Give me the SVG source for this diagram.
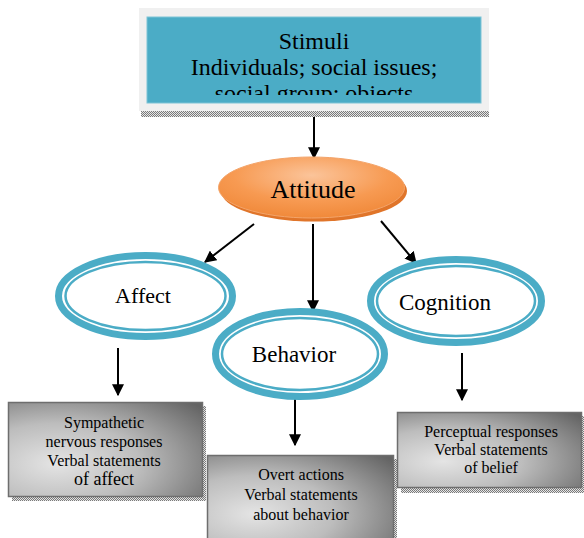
<svg xmlns="http://www.w3.org/2000/svg" width="584" height="538" viewBox="0 0 584 538" font-family="'Liberation Serif', 'DejaVu Serif', serif">
<defs>
<style>
text{font-family:'Liberation Serif','DejaVu Serif',serif;fill:#000;text-anchor:middle}
.ring{fill:#fff;stroke:#4bacc6}
.arr{stroke:#000;stroke-width:2;fill:none;marker-end:url(#ah)}
.box{fill:url(#gbox);stroke:#6e6e6e;stroke-width:1.5}
.shd{fill:url(#dots)}
</style>
<marker id="ah" viewBox="0 0 10 10" refX="9" refY="5" markerWidth="6" markerHeight="6" orient="auto" markerUnits="strokeWidth">
<path d="M0,0 L10,5 L0,10 z" fill="#000"/>
</marker>
<pattern id="dots" width="2" height="2" patternUnits="userSpaceOnUse">
<rect width="2" height="2" fill="#e6e6e6"/>
<rect width="1" height="1" fill="#7a7a7a"/>
<rect x="1" y="1" width="1" height="1" fill="#7a7a7a"/>
</pattern>
<radialGradient id="gbox" cx="0.25" cy="0.65" r="0.95">
<stop offset="0" stop-color="#e4e4e4"/>
<stop offset="0.45" stop-color="#bdbdbd"/>
<stop offset="1" stop-color="#646464"/>
</radialGradient>
<radialGradient id="gorange" cx="0.5" cy="0.3" r="0.7">
<stop offset="0" stop-color="#fbc49a"/>
<stop offset="0.6" stop-color="#f79a52"/>
<stop offset="1" stop-color="#f0893a"/>
</radialGradient>
<clipPath id="clipTop"><rect x="147" y="17" width="334" height="78"/></clipPath>
</defs>

<g id="stimuli">
<rect class="shd" x="141" y="111" width="348" height="6"/>
<rect x="139" y="8" width="350" height="103" fill="#f0f0f0"/>
<rect x="147" y="17" width="334" height="86" fill="#4bacc6" stroke="#7cc3d6" stroke-width="1"/>
<g clip-path="url(#clipTop)" font-size="24">
<text x="314" y="49">Stimuli</text>
<text x="314" y="75">Individuals; social issues;</text>
<text x="314" y="101">social group; objects</text>
</g>
</g>

<g id="connectors">
<line class="arr" x1="314" y1="117" x2="314" y2="158"/>
<line class="arr" x1="254" y1="224" x2="205" y2="262"/>
<line class="arr" x1="313" y1="224" x2="313" y2="311"/>
<line class="arr" x1="381" y1="221" x2="416" y2="263"/>
<line class="arr" x1="118" y1="348" x2="118" y2="395"/>
<line class="arr" x1="295" y1="399" x2="295" y2="445"/>
<line class="arr" x1="462" y1="353" x2="462" y2="400"/>
</g>

<g id="attitude">
<ellipse cx="314" cy="191" rx="93" ry="30.5" fill="#e0752a"/>
<ellipse cx="311.5" cy="187.5" rx="93" ry="30.5" fill="url(#gorange)" stroke="#f3a46a" stroke-width="1"/>
<text x="313" y="198" font-size="26">Attitude</text>
</g>

<g id="affect">
<ellipse class="ring" cx="145.5" cy="296" rx="87" ry="40.5" stroke-width="7"/>
<ellipse cx="145.5" cy="296" rx="80" ry="34" fill="none" stroke="#4bacc6" stroke-width="2.5"/>
<text x="143" y="303" font-size="22">Affect</text>
</g>

<g id="cognition">
<ellipse class="ring" cx="456" cy="301" rx="85.5" ry="41.5" stroke-width="7"/>
<ellipse cx="456" cy="301" rx="79" ry="35" fill="none" stroke="#4bacc6" stroke-width="2.5"/>
<text x="445" y="310" font-size="23">Cognition</text>
</g>

<g id="behavior">
<ellipse class="ring" cx="300" cy="354" rx="84.5" ry="42.5" stroke-width="7"/>
<ellipse cx="300" cy="354" rx="78" ry="36" fill="none" stroke="#4bacc6" stroke-width="2.5"/>
<text x="294" y="362" font-size="23">Behavior</text>
</g>

<g id="affect-box">
<rect class="shd" x="12" y="406" width="194" height="95"/>
<rect class="box" x="8.5" y="402.5" width="194" height="94"/>
<g font-size="16">
<text x="104" y="428">Sympathetic</text>
<text x="104" y="447">nervous responses</text>
<text x="104" y="466">Verbal statements</text>
<text x="104" y="485" font-size="18">of affect</text>
</g>
</g>

<g id="behavior-box">
<rect class="shd" x="211" y="459" width="186" height="85"/>
<rect class="box" x="207.5" y="455.5" width="186" height="90"/>
<g font-size="16">
<text x="301" y="480">Overt actions</text>
<text x="301" y="500">Verbal statements</text>
<text x="301" y="520">about behavior</text>
</g>
</g>

<g id="cognition-box">
<rect class="shd" x="401" y="416" width="183" height="77"/>
<rect class="box" x="397.5" y="412.5" width="184" height="75"/>
<g font-size="16">
<text x="491" y="437">Perceptual responses</text>
<text x="491" y="455">Verbal statements</text>
<text x="491" y="473">of belief</text>
</g>
</g>
</svg>
